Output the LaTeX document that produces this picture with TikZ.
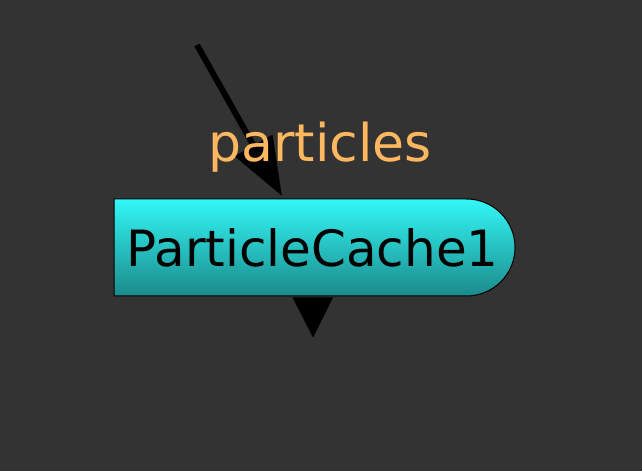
\documentclass[tikz,border=0pt]{standalone}
\usepackage{fontspec}
\setmainfont{DejaVu Sans}
\usetikzlibrary{arrows.meta,shapes.misc,calc}
\definecolor{bg}{HTML}{333333}
\definecolor{lblorange}{HTML}{FFB85F}
\definecolor{cyantop}{HTML}{33F7F7}
\definecolor{cyanbot}{HTML}{1B8A8A}
\tikzset{
  pcbox/.style={rounded rectangle, rounded rectangle left arc=none,
    draw=black, line width=1pt, top color=cyantop, bottom color=cyanbot,
    minimum width=401pt, minimum height=97pt, inner sep=0pt,
    font=\fontsize{50}{60}\selectfont, text=black},
  lbl/.style={font=\fontsize{52}{62}\selectfont, text=lblorange, inner sep=0pt},
  inarrow/.style={draw=black, line width=6pt, -{Triangle[length=58pt,width=42pt]}},
  outport/.style={fill=black}
}
\begin{document}
\begin{tikzpicture}[x=1pt,y=1pt]
\fill[bg] (0,0) rectangle (642,471);
\useasboundingbox (0,0) rectangle (642,471);
\node[pcbox] (pc) at (312.5,223.5) {ParticleCache1};
\coordinate (src) at (197,426);
\coordinate (dst) at (282,275);
\draw[inarrow] (src) -- (dst);
\node[lbl, anchor=base] (lab) at (320,309) {particles};
\fill[outport] ($(pc.south)+(-20,-1)$) -- ($(pc.south)+(20.5,-1)$) -- ($(pc.south)+(0.5,-41)$) -- cycle;
\end{tikzpicture}
\end{document}
